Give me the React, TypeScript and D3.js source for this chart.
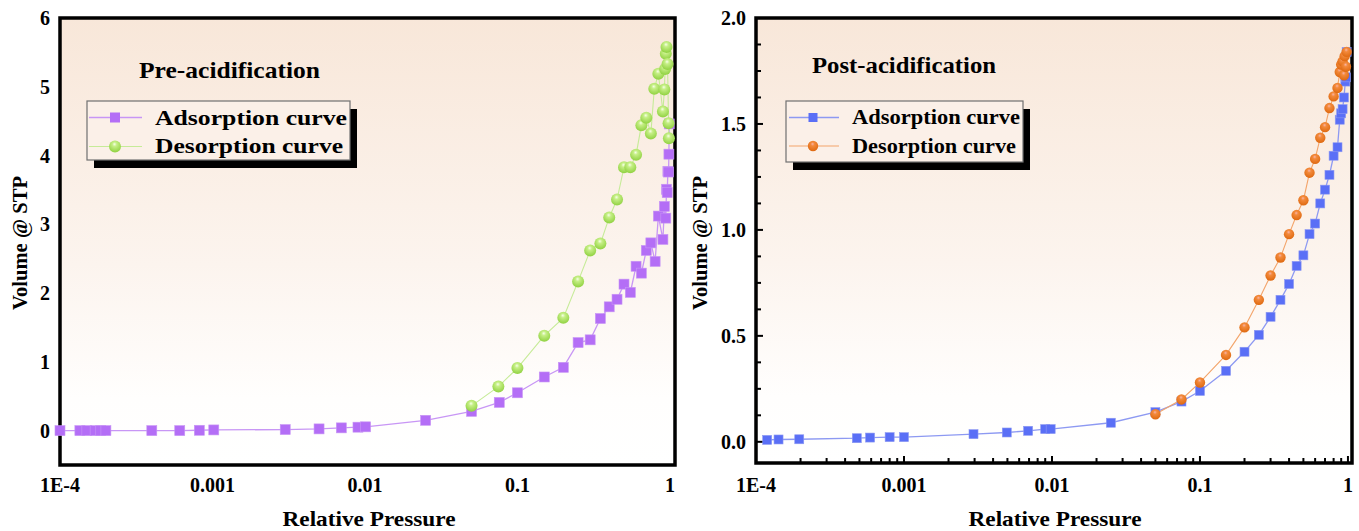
import React from "react";
import * as d3 from "d3";

// ---------- DATA ----------
const xTickValues = [1e-4, 1e-3, 1e-2, 1e-1, 1];
const xTickLabels = ["1E-4", "0.001", "0.01", "0.1", "1"];

const preYTicks = [0, 1, 2, 3, 4, 5, 6];
const preYTickLabels = ["0", "1", "2", "3", "4", "5", "6"];
const postYTicks = [0, 0.5, 1, 1.5, 2];
const postYTickLabels = ["0.0", "0.5", "1.0", "1.5", "2.0"];

// Pre-acidification, adsorption
const preAdsP = [1e-4, 1.35e-4, 1.5e-4, 1.7e-4, 1.85e-4, 2.0e-4, 4.0e-4, 6.1e-4, 8.2e-4, 1.02e-3, 3.0e-3, 5.0e-3, 7.0e-3, 9.0e-3, 1.01e-2, 0.025, 0.05, 0.076, 0.1, 0.15, 0.2, 0.25, 0.3, 0.35, 0.4, 0.45, 0.5, 0.55, 0.6, 0.65, 0.7, 0.75, 0.8, 0.84, 0.9, 0.92, 0.94, 0.95, 0.96, 0.97, 0.98, 0.985, 0.99];
const preAdsV = [0, 0, 0, 0, 0, 0, 0, 0, 0.005, 0.01, 0.015, 0.025, 0.04, 0.05, 0.055, 0.15, 0.28, 0.41, 0.55, 0.78, 0.92, 1.28, 1.32, 1.63, 1.8, 1.91, 2.13, 2.01, 2.39, 2.29, 2.62, 2.73, 2.46, 3.12, 2.78, 3.26, 3.09, 3.51, 3.46, 3.77, 3.76, 4.02, 4.46];
// Pre-acidification, desorption
const preDesP = [0.05, 0.075, 0.1, 0.15, 0.2, 0.25, 0.3, 0.35, 0.4, 0.45, 0.5, 0.55, 0.6, 0.65, 0.7, 0.75, 0.79, 0.84, 0.9, 0.92, 0.93, 0.94, 0.95, 0.965, 0.98, 0.985];
const preDesV = [0.36, 0.64, 0.91, 1.38, 1.64, 2.17, 2.62, 2.72, 3.1, 3.36, 3.83, 3.83, 4.01, 4.44, 4.55, 4.32, 4.97, 5.19, 4.64, 4.96, 5.26, 5.48, 5.58, 5.33, 4.47, 4.25];

// Post-acidification, adsorption
const postAdsP = [1.19e-4, 1.42e-4, 1.96e-4, 4.8e-4, 5.9e-4, 8.0e-4, 1.0e-3, 2.95e-3, 4.95e-3, 6.9e-3, 9.0e-3, 9.8e-3, 0.025, 0.05, 0.075, 0.1, 0.15, 0.2, 0.25, 0.3, 0.35, 0.4, 0.45, 0.5, 0.55, 0.6, 0.65, 0.7, 0.75, 0.8, 0.85, 0.88, 0.9, 0.92, 0.94, 0.96, 0.97, 0.98];
const postAdsV = [0.009, 0.011, 0.012, 0.017, 0.02, 0.022, 0.022, 0.036, 0.044, 0.052, 0.06, 0.06, 0.09, 0.14, 0.19, 0.24, 0.335, 0.425, 0.505, 0.59, 0.67, 0.745, 0.83, 0.88, 0.98, 1.03, 1.125, 1.19, 1.26, 1.35, 1.39, 1.52, 1.55, 1.57, 1.625, 1.7, 1.72, 1.84];
// Post-acidification, desorption
const postDesP = [0.05, 0.075, 0.1, 0.15, 0.2, 0.25, 0.3, 0.35, 0.4, 0.45, 0.5, 0.55, 0.6, 0.65, 0.7, 0.75, 0.8, 0.85, 0.88, 0.9, 0.92, 0.94, 0.95, 0.97, 0.98];
const postDesV = [0.13, 0.2, 0.28, 0.41, 0.54, 0.67, 0.785, 0.87, 0.98, 1.07, 1.14, 1.27, 1.335, 1.435, 1.485, 1.575, 1.63, 1.67, 1.745, 1.78, 1.795, 1.73, 1.82, 1.77, 1.84];

const FONT = "'Liberation Serif', 'Times New Roman', serif";

type Series = { p: number[]; v: number[] };

type PanelProps = {
  id: string;
  x0: number; x1: number; y0: number; y1: number;
  xDomain: [number, number]; yDomain: [number, number];
  yTicks: number[]; yTickLabels: string[];
  ads: Series; des: Series;
  adsColor: string; adsLine: string; desLine: string; desGrad: string;
  sq: number; r: number;
  title: string; titleX: number; titleY: number; titleLen: number;
  legend: { x: number; y: number; w: number; h: number; textX: number; textLen: number; fs: number; lineX0: number; lineX1: number; markX: number; rowY: [number, number]; baseY: [number, number] };
  minorTicks: boolean;
  yTitleX: number; xTitleX: number;
};

function Panel(pp: PanelProps) {
  const x = d3.scaleLog().domain(pp.xDomain).range([pp.x0, pp.x1]);
  const y = d3.scaleLinear().domain(pp.yDomain).range([pp.y1, pp.y0]);
  const line = d3.line<[number, number]>().x((d) => x(d[0])).y((d) => y(d[1]));
  const adsPts: [number, number][] = pp.ads.p.map((p, i) => [p, pp.ads.v[i]]);
  const desPts: [number, number][] = pp.des.p.map((p, i) => [p, pp.des.v[i]]);

  const minorX: number[] = [];
  if (pp.minorTicks) {
    for (let e = -4; e <= 0; e++) {
      for (let k = 1; k <= 9; k++) {
        const v = k * Math.pow(10, e);
        if (v >= pp.xDomain[0] && v <= pp.xDomain[1]) minorX.push(v);
      }
    }
  }
  const minorY: number[] = [];
  if (pp.minorTicks) {
    for (let v = 0; v <= pp.yDomain[1] + 1e-9; v += 0.125) minorY.push(+v.toFixed(4));
  }
  const lg = pp.legend;
  return (
    <g>
      <defs>
        <linearGradient id={pp.id + "bg"} x1="0" y1="0" x2="0" y2="1">
          <stop offset="0" stopColor="#f8e7d9" />
          <stop offset="0.55" stopColor="#fcf4ee" />
          <stop offset="0.85" stopColor="#fffefd" />
          <stop offset="1" stopColor="#ffffff" />
        </linearGradient>
      </defs>
      <rect x={pp.x0} y={pp.y0} width={pp.x1 - pp.x0} height={pp.y1 - pp.y0} fill={`url(#${pp.id}bg)`} />

      {/* ticks */}
      {minorX.map((v, i) => {
        const major = Math.abs(Math.log10(v) - Math.round(Math.log10(v))) < 1e-6;
        return <line key={"mx" + i} x1={x(v)} x2={x(v)} y1={pp.y1} y2={pp.y1 - (major ? 7 : 5)} stroke="#000" strokeWidth={2} />;
      })}
      {minorY.map((v, i) => {
        const major = Math.abs(v * 2 - Math.round(v * 2)) < 1e-6;
        return <line key={"my" + i} x1={pp.x0} x2={pp.x0 + (major ? 7 : 5)} y1={y(v)} y2={y(v)} stroke="#000" strokeWidth={2} />;
      })}

      <rect x={pp.x0} y={pp.y0} width={pp.x1 - pp.x0} height={pp.y1 - pp.y0} fill="none" stroke="#000" strokeWidth={3.5} />

      <g>
        <path d={line(adsPts) || ""} fill="none" stroke={pp.adsLine} strokeWidth={1.3} />
        <path d={line(desPts) || ""} fill="none" stroke={pp.desLine} strokeWidth={1.1} />
        {adsPts.map((d, i) => (
          <rect key={"a" + i} x={x(d[0]) - pp.sq / 2} y={y(d[1]) - pp.sq / 2} width={pp.sq} height={pp.sq} fill={pp.adsColor} stroke={pp.adsLine} strokeWidth={0.6} />
        ))}
        {desPts.map((d, i) => (
          <circle key={"d" + i} cx={x(d[0])} cy={y(d[1])} r={pp.r} fill={`url(#${pp.desGrad})`} />
        ))}
      </g>

      {xTickValues.map((v, i) => (
        <text key={"xl" + i} x={x(v)} y={492} textAnchor="middle" fontFamily={FONT} fontWeight="bold" fontSize={20}>{xTickLabels[i]}</text>
      ))}
      {pp.yTicks.map((v, i) => (
        <text key={"yl" + i} x={pp.x0 - 10} y={y(v) + 7} textAnchor="end" fontFamily={FONT} fontWeight="bold" fontSize={20}>{pp.yTickLabels[i]}</text>
      ))}

      <text transform={`translate(${pp.yTitleX},243) rotate(-90)`} textAnchor="middle" fontFamily={FONT} fontWeight="bold" fontSize={21} textLength={134} lengthAdjust="spacingAndGlyphs">Volume @ STP</text>
      <text x={pp.xTitleX} y={526} textAnchor="middle" fontFamily={FONT} fontWeight="bold" fontSize={22} textLength={173} lengthAdjust="spacingAndGlyphs">Relative Pressure</text>

      <text x={pp.titleX} y={pp.titleY} fontFamily={FONT} fontWeight="bold" fontSize={23} textLength={pp.titleLen} lengthAdjust="spacingAndGlyphs">{pp.title}</text>

      {/* legend */}
      <rect x={lg.x + 7} y={lg.y + 8} width={lg.w} height={lg.h} fill="#000" />
      <rect x={lg.x} y={lg.y} width={lg.w} height={lg.h} fill="#fbf0e8" stroke="#707070" strokeWidth={1.2} />
      <line x1={lg.lineX0} x2={lg.lineX1} y1={lg.rowY[0]} y2={lg.rowY[0]} stroke={pp.adsLine} strokeWidth={1.3} />
      <rect x={lg.markX - pp.sq / 2} y={lg.rowY[0] - pp.sq / 2} width={pp.sq} height={pp.sq} fill={pp.adsColor} />
      <line x1={lg.lineX0} x2={lg.lineX1} y1={lg.rowY[1]} y2={lg.rowY[1]} stroke={pp.desLine} strokeWidth={1.1} />
      <circle cx={lg.markX} cy={lg.rowY[1]} r={pp.r} fill={`url(#${pp.desGrad})`} />
      <text x={lg.textX} y={lg.baseY[0]} fontFamily={FONT} fontWeight="bold" fontSize={lg.fs} textLength={lg.textLen} lengthAdjust="spacingAndGlyphs">Adsorption curve</text>
      <text x={lg.textX} y={lg.baseY[1]} fontFamily={FONT} fontWeight="bold" fontSize={lg.fs} textLength={lg.textLen - 4} lengthAdjust="spacingAndGlyphs">Desorption curve</text>
    </g>
  );
}

export default function App() {
  return (
    <svg width={1359} height={531} style={{ position: "absolute", left: 0, top: 0, display: "block", background: "#fff" }}>
      <defs>
        <radialGradient id="greenBall" cx="0.5" cy="0.35" r="0.6" fx="0.45" fy="0.3">
          <stop offset="0" stopColor="#f6ffe8" />
          <stop offset="0.3" stopColor="#c6ef86" />
          <stop offset="1" stopColor="#95d447" />
        </radialGradient>
        <radialGradient id="orangeBall" cx="0.5" cy="0.35" r="0.6" fx="0.45" fy="0.3">
          <stop offset="0" stopColor="#f8b3a8" />
          <stop offset="0.3" stopColor="#f38a3c" />
          <stop offset="1" stopColor="#e06c14" />
        </radialGradient>
      </defs>
      <Panel
        id="pre"
        x0={60} x1={675} y0={18} y1={465}
        xDomain={[1e-4, 1.08]} yDomain={[-0.5, 6]}
        yTicks={preYTicks} yTickLabels={preYTickLabels}
        ads={{ p: preAdsP, v: preAdsV }} des={{ p: preDesP, v: preDesV }}
        adsColor="#b46ef6" adsLine="#c896f5" desLine="#c6eb98" desGrad="greenBall"
        sq={10} r={6}
        title="Pre-acidification" titleX={139} titleY={78} titleLen={181}
        legend={{ x: 87, y: 101, w: 263, h: 59, textX: 155, textLen: 192, fs: 22, lineX0: 89, lineX1: 142, markX: 115, rowY: [117.5, 146.5], baseY: [125, 153] }}
        minorTicks={false}
        yTitleX={27} xTitleX={369}
      />
      <Panel
        id="post"
        x0={756} x1={1352} y0={18} y1={463}
        xDomain={[1e-4, 1.065]} yDomain={[-0.1, 2]}
        yTicks={postYTicks} yTickLabels={postYTickLabels}
        ads={{ p: postAdsP, v: postAdsV }} des={{ p: postDesP, v: postDesV }}
        adsColor="#5a6ff6" adsLine="#8d99f2" desLine="#f3a46a" desGrad="orangeBall"
        sq={9} r={5.2}
        title="Post-acidification" titleX={812} titleY={73} titleLen={184}
        legend={{ x: 786, y: 101, w: 237, h: 61, textX: 852, textLen: 168, fs: 20, lineX0: 789, lineX1: 839, markX: 813, rowY: [117.5, 146], baseY: [124, 153] }}
        minorTicks={true}
        yTitleX={707} xTitleX={1055}
      />
    </svg>
  );
}
